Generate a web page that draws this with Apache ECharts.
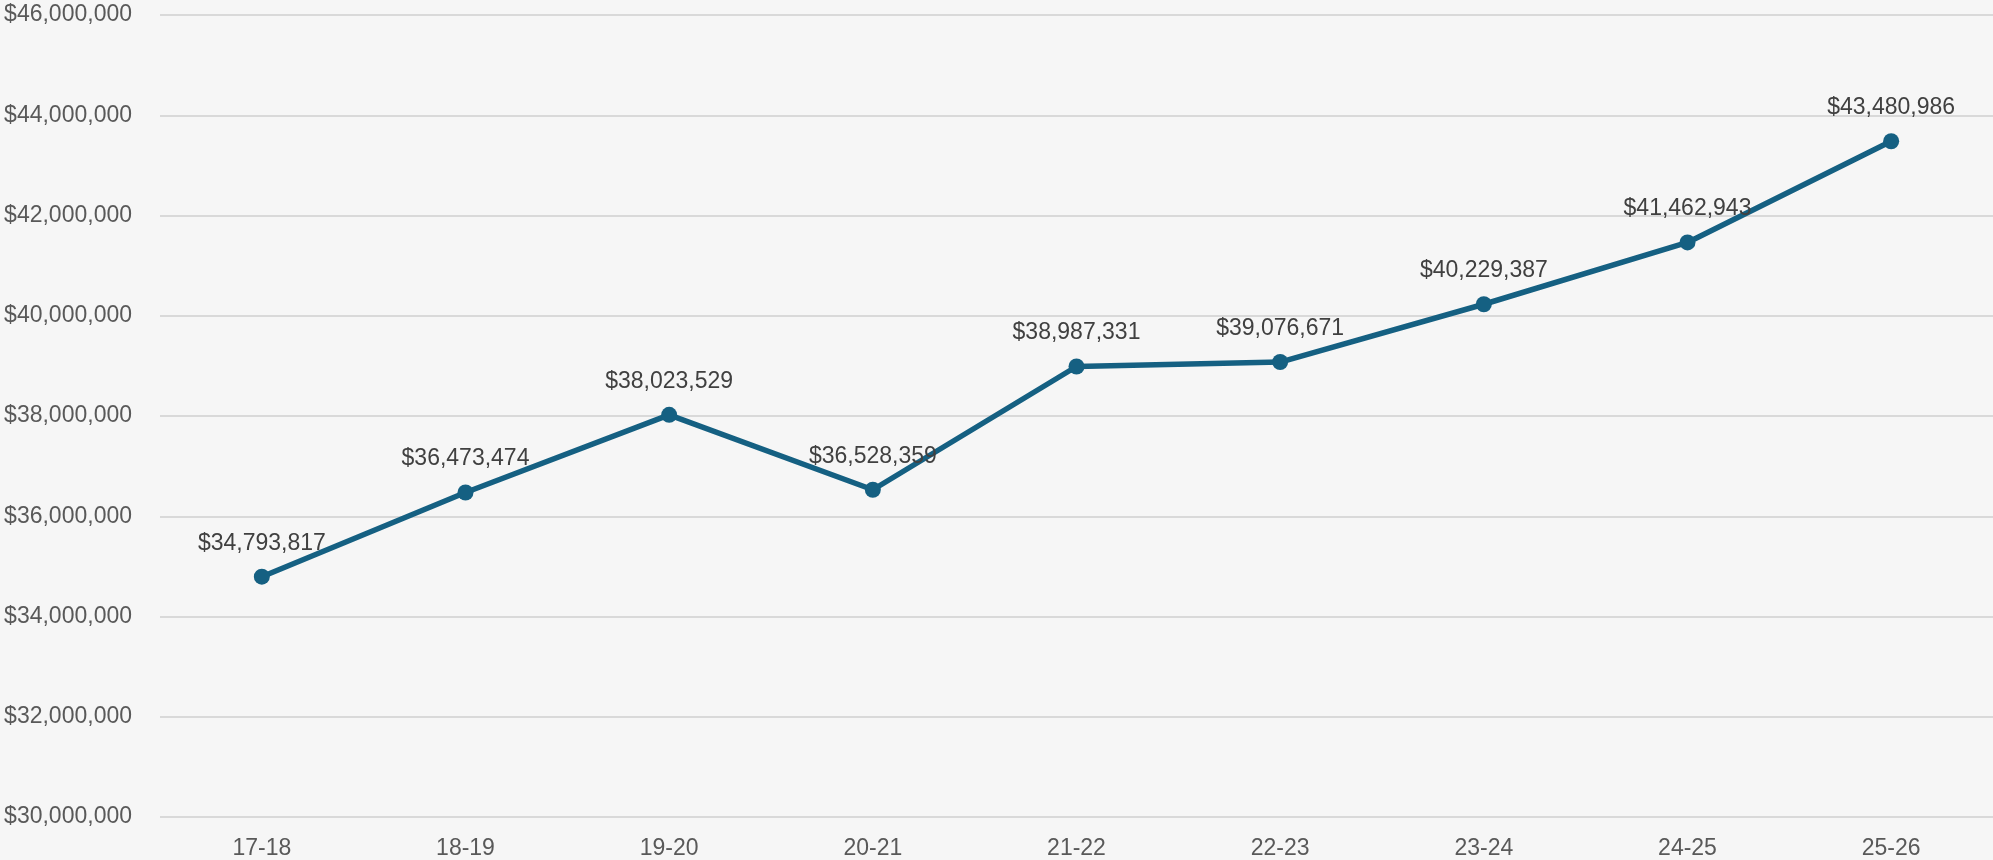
<!DOCTYPE html>
<html><head><meta charset="utf-8">
<script src="https://cdn.jsdelivr.net/npm/echarts@6/dist/echarts.min.js"></script>
<style>html,body{margin:0;padding:0;background:#f6f6f6;}#c{width:1993px;height:860px;}</style>
</head><body><div id="c"></div>
<script>
const categories = ['17-18','18-19','19-20','20-21','21-22','22-23','23-24','24-25','25-26'];
const values = [34793817, 36473474, 38023529, 36528359, 38987331, 39076671, 40229387, 41462943, 43480986];
const yMin = 30000000, yMax = 46000000, yStep = 2000000;
const fmt = v => '$' + Math.round(v).toLocaleString('en-US');
const FONT = 'Liberation Sans, Arial, sans-serif';
const chart = echarts.init(document.getElementById('c'));
chart.setOption({
  backgroundColor: '#f6f6f6',
  animation: false,
  grid: {left: 160, right: 0, top: 15, bottom: 43, containLabel: false},
  xAxis: {
    type: 'category', data: categories, boundaryGap: true,
    axisLine: {show: false}, axisTick: {show: false},
    axisLabel: {color: '#595959', fontSize: 23, fontFamily: FONT, margin: 20}
  },
  yAxis: {
    type: 'value', min: yMin, max: yMax, interval: yStep,
    axisLine: {show: false}, axisTick: {show: false},
    splitLine: {lineStyle: {color: '#d9d9d9', width: 2}},
    axisLabel: {color: '#595959', fontSize: 23, fontFamily: FONT, margin: 28, formatter: fmt}
  },
  series: [{
    type: 'line', data: values,
    lineStyle: {color: '#156082', width: 5.5},
    itemStyle: {color: '#156082'},
    symbol: 'circle', symbolSize: 16,
    label: {show: true, position: 'top', distance: 14, color: '#404040', fontSize: 23,
      fontFamily: FONT, formatter: p => fmt(p.value)}
  }]
});
</script></body></html>
